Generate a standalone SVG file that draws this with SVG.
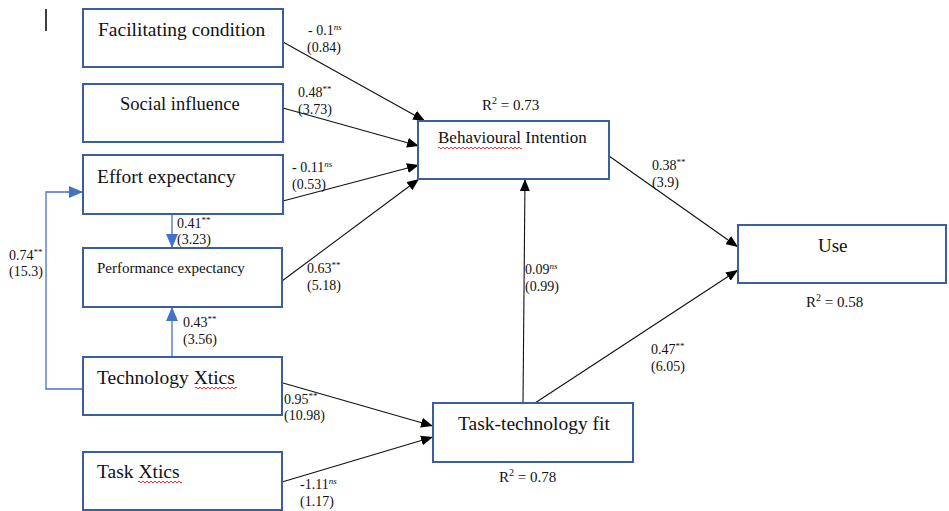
<svg xmlns="http://www.w3.org/2000/svg" width="949" height="511" viewBox="0 0 949 511" font-family="Liberation Serif, Times New Roman, serif">
<style>
.box{fill:#fff;stroke:#3B5E9E;stroke-width:2}
.t{fill:#111}
.n{font-size:19.5px}
.l{font-size:14px}
.r{font-size:15px}
.sup{font-size:9px}
.ns{font-style:italic}
.c{stroke:#111;stroke-width:1.1;fill:none}
.b{stroke:#4472C4;stroke-width:1.3;fill:none}
.sq{stroke:#E03030;stroke-width:1;fill:none}
</style>
<defs>
<marker id="ah" markerWidth="12" markerHeight="10" refX="12" refY="5" orient="auto" markerUnits="userSpaceOnUse"><path d="M0,0 L12,5 L0,10 z" fill="#000"/></marker>
<marker id="bh" markerWidth="14" markerHeight="12" refX="14" refY="6" orient="auto" markerUnits="userSpaceOnUse"><path d="M0,0 L14,6 L0,12 z" fill="#4472C4"/></marker>
</defs>
<rect width="949" height="511" fill="#fff"/>
<line x1="46" y1="9" x2="46" y2="31" stroke="#000" stroke-width="1.5"/>

<g id="connectors">
<path class="c" d="M283,42 L425,121" marker-end="url(#ah)"/>
<path class="c" d="M283,108 L419,146" marker-end="url(#ah)"/>
<path class="c" d="M283,201 L419,165" marker-end="url(#ah)"/>
<path class="c" d="M282,281 L419,179" marker-end="url(#ah)"/>
<path class="c" d="M609,156 L738,247" marker-end="url(#ah)"/>
<path class="c" d="M535,403 L738,270" marker-end="url(#ah)"/>
<path class="c" d="M523,403 L525,179" marker-end="url(#ah)"/>
<path class="c" d="M283,383 L433,426" marker-end="url(#ah)"/>
<path class="c" d="M282,482 L433,437" marker-end="url(#ah)"/>
<path class="b" d="M172,214 L172,248" marker-end="url(#bh)"/>
<path class="b" d="M172,357 L172,307" marker-end="url(#bh)"/>
<path class="b" d="M83,389 L46,389 L46,192 L83,192" marker-end="url(#bh)"/>
</g>

<g id="labels" font-family="Liberation Serif, serif">
<text class="t l" x="308" y="35">- 0.1<tspan class="sup ns" dy="-5">ns</tspan></text>
<text class="t l" x="307" y="52">(0.84)</text>
<text class="t l" x="298" y="97">0.48<tspan class="sup" dy="-5">**</tspan></text>
<text class="t l" x="298" y="114">(3.73)</text>
<text class="t l" x="292" y="172">- 0.11<tspan class="sup ns" dy="-5">ns</tspan></text>
<text class="t l" x="292" y="189">(0.53)</text>
<text class="t l" x="177" y="228">0.41<tspan class="sup" dy="-5">**</tspan></text>
<text class="t l" x="177" y="244">(3.23)</text>
<text class="t l" x="9" y="260">0.74<tspan class="sup" dy="-5">**</tspan></text>
<text class="t l" x="9" y="276">(15.3)</text>
<text class="t l" x="307" y="273">0.63<tspan class="sup" dy="-5">**</tspan></text>
<text class="t l" x="307" y="290">(5.18)</text>
<text class="t l" x="183" y="327">0.43<tspan class="sup" dy="-5">**</tspan></text>
<text class="t l" x="183" y="344">(3.56)</text>
<text class="t l" x="284" y="404">0.95<tspan class="sup" dy="-5">**</tspan></text>
<text class="t l" x="284" y="420">(10.98)</text>
<text class="t l" x="300" y="489">-1.11<tspan class="sup ns" dy="-5">ns</tspan></text>
<text class="t l" x="300" y="506">(1.17)</text>
<text class="t l" x="652" y="170">0.38<tspan class="sup" dy="-5">**</tspan></text>
<text class="t l" x="652" y="187">(3.9)</text>
<text class="t l" x="525" y="274">0.09<tspan class="sup ns" dy="-5">ns</tspan></text>
<text class="t l" x="525" y="291">(0.99)</text>
<text class="t l" x="651" y="354">0.47<tspan class="sup" dy="-5">**</tspan></text>
<text class="t l" x="651" y="371">(6.05)</text>
<text class="t r" x="482" y="110">R<tspan font-size="10" dy="-6">2</tspan><tspan dy="6"> = 0.73</tspan></text>
<text class="t r" x="806" y="307">R<tspan font-size="10" dy="-6">2</tspan><tspan dy="6"> = 0.58</tspan></text>
<text class="t r" x="499" y="482">R<tspan font-size="10" dy="-6">2</tspan><tspan dy="6"> = 0.78</tspan></text>
</g>

<g id="facilitating-condition">
<rect class="box" x="83" y="9" width="200" height="58"/>
<text class="t n" x="98" y="36">Facilitating condition</text>
</g>
<g id="social-influence">
<rect class="box" x="83" y="84" width="200" height="58"/>
<text class="t" font-size="18.5" x="120" y="110">Social influence</text>
</g>
<g id="effort-expectancy">
<rect class="box" x="83" y="155" width="200" height="59"/>
<text class="t n" x="97" y="183">Effort expectancy</text>
</g>
<g id="performance-expectancy">
<rect class="box" x="83" y="248" width="199" height="59"/>
<text class="t" font-size="15" x="97" y="273">Performance expectancy</text>
</g>
<g id="technology-xtics">
<rect class="box" x="83" y="357" width="199" height="58"/>
<text class="t n" x="97" y="384">Technology Xtics</text>
<path class="sq" d="M195,388 q1,-2 2,0 t2,0 t2,0 t2,0 t2,0 t2,0 t2,0 t2,0 t2,0 t2,0 t2,0 t2,0 t2,0 t2,0 t2,0 t2,0 t2,0 t2,0 t2,0 t2,0 t2,0"/>
</g>
<g id="task-xtics">
<rect class="box" x="83" y="452" width="199" height="58"/>
<text class="t n" x="97" y="478">Task Xtics</text>
<path class="sq" d="M138,482 q1,-2 2,0 t2,0 t2,0 t2,0 t2,0 t2,0 t2,0 t2,0 t2,0 t2,0 t2,0 t2,0 t2,0 t2,0 t2,0 t2,0 t2,0 t2,0 t2,0 t2,0 t2,0 t2,0"/>
</g>
<g id="behavioural-intention">
<rect class="box" x="418" y="121" width="191" height="58"/>
<text class="t" font-size="17" x="438" y="143">Behavioural Intention</text>
<path class="sq" d="M438,148 q1,-2 2,0 t2,0 t2,0 t2,0 t2,0 t2,0 t2,0 t2,0 t2,0 t2,0 t2,0 t2,0 t2,0 t2,0 t2,0 t2,0 t2,0 t2,0 t2,0 t2,0 t2,0 t2,0 t2,0 t2,0 t2,0 t2,0 t2,0 t2,0 t2,0 t2,0 t2,0 t2,0 t2,0 t2,0 t2,0 t2,0 t2,0 t2,0 t2,0 t2,0 t2,0 t2,0"/>
</g>
<g id="use">
<rect class="box" x="738" y="225" width="208" height="58"/>
<text class="t" font-size="19" x="818" y="252">Use</text>
</g>
<g id="task-technology-fit">
<rect class="box" x="433" y="403" width="200" height="59"/>
<text class="t n" x="458" y="430">Task-technology fit</text>
</g>
</svg>
